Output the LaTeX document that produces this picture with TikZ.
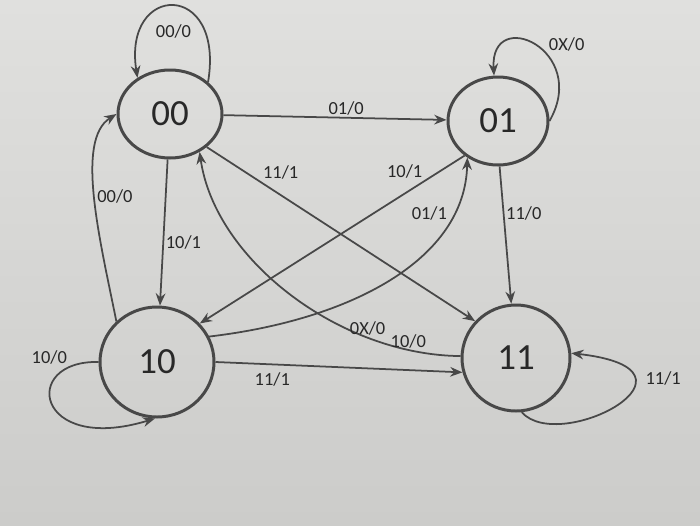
\documentclass[tikz,border=0pt]{standalone}
\usepackage{fontspec}
\setmainfont{Carlito}
\usepackage{xcolor}
\usetikzlibrary{arrows.meta,positioning,shapes.geometric,calc}

\definecolor{paper}{RGB}{224,224,222}
\definecolor{paperdark}{RGB}{204,204,202}
\definecolor{ink}{RGB}{72,72,72}
\definecolor{txt}{RGB}{40,40,40}

\begin{document}
\begin{tikzpicture}[
    state/.style={
        ellipse,
        draw=ink,
        line width=1.7pt,
        text=txt,
        font=\fontsize{21}{21}\selectfont
    },
    arrow/.style={
        ->,
        >={Stealth[length=7pt,width=5.5pt]},
        draw=ink,
        line width=1pt
    },
    lbl/.style={
        text=txt,
        inner sep=1pt,
        font=\fontsize{10.5}{10.5}\selectfont
    }
]

% Paper
\shade[top color=paper, bottom color=paperdark] (0,0) rectangle (14,-10.5);
\useasboundingbox (0,0) rectangle (14,-10.5);

% States
\node[state, minimum width=2.08cm, minimum height=1.76cm] (s00) at (3.4,-2.28) {00};
\node[state, minimum width=2.0cm, minimum height=1.76cm] (s01) at (9.96,-2.42) {01};
\node[state, minimum width=2.28cm, minimum height=2.2cm] (s10) at (3.14,-7.24) {10};
\node[state, minimum width=2.16cm, minimum height=2.12cm] (s11) at (10.32,-7.16) {11};

% Self loops
\draw[arrow] (s00.40) .. controls (4.5,0.4) and (2.45,0.35) .. node[lbl, pos=0.5, below=9pt] {00/0} (s00.132);
\draw[arrow] (s01.0) .. controls (11.8,-1.0) and (9.8,-0.1) .. node[lbl, pos=0.4, anchor=south west] {0X/0} (s01.95);
\draw[arrow] (s10.180) .. controls (0.4,-7.2) and (0.7,-9.1) .. node[lbl, pos=0.15, anchor=south east] {10/0} (s10.-92);
\draw[arrow] (s11.-84) .. controls (11.2,-9.1) and (14.4,-7.4) .. node[lbl, pos=0.65, anchor=south west, xshift=6pt] {11/1} (s11.5);

% Arrows
\draw[arrow] (s00) -- node[lbl, pos=0.55, above] {01/0} (s01);
\draw[arrow] (s00) -- node[lbl, pos=0.57, anchor=west] {10/1} (s10);
\draw[arrow] (s00.-42) -- node[lbl, pos=0.2, anchor=south west] {11/1} (s11.138);
\draw[arrow] (s01.226) -- node[lbl, pos=0.15, anchor=south east] {10/1} (s10.42);
\draw[arrow] (s10.26) .. controls (7,-6.4) and (9.3,-5.2) .. node[lbl, pos=0.8, anchor=east, xshift=-2pt] {01/1} (s01.230);
\draw[arrow] (s01.-88) -- node[lbl, pos=0.34, anchor=west] {11/0} (s11.95);
\draw[arrow] (s11.178) .. controls (6.8,-7.1) and (4.3,-5.2) ..
    node[lbl, pos=0.26, anchor=south] {0X/0}
    node[lbl, pos=0.13, anchor=south, xshift=-3pt] {10/0} (s00.-52);
\draw[arrow] (s10.135) .. controls (2.0,-4.8) and (1.5,-2.8) .. node[lbl, pos=0.5, anchor=west] {00/0} (s00.180);
\draw[arrow] (s10.0) -- node[lbl, pos=0.23, below=3pt] {11/1} (s11.195);

\end{tikzpicture}
\end{document}
